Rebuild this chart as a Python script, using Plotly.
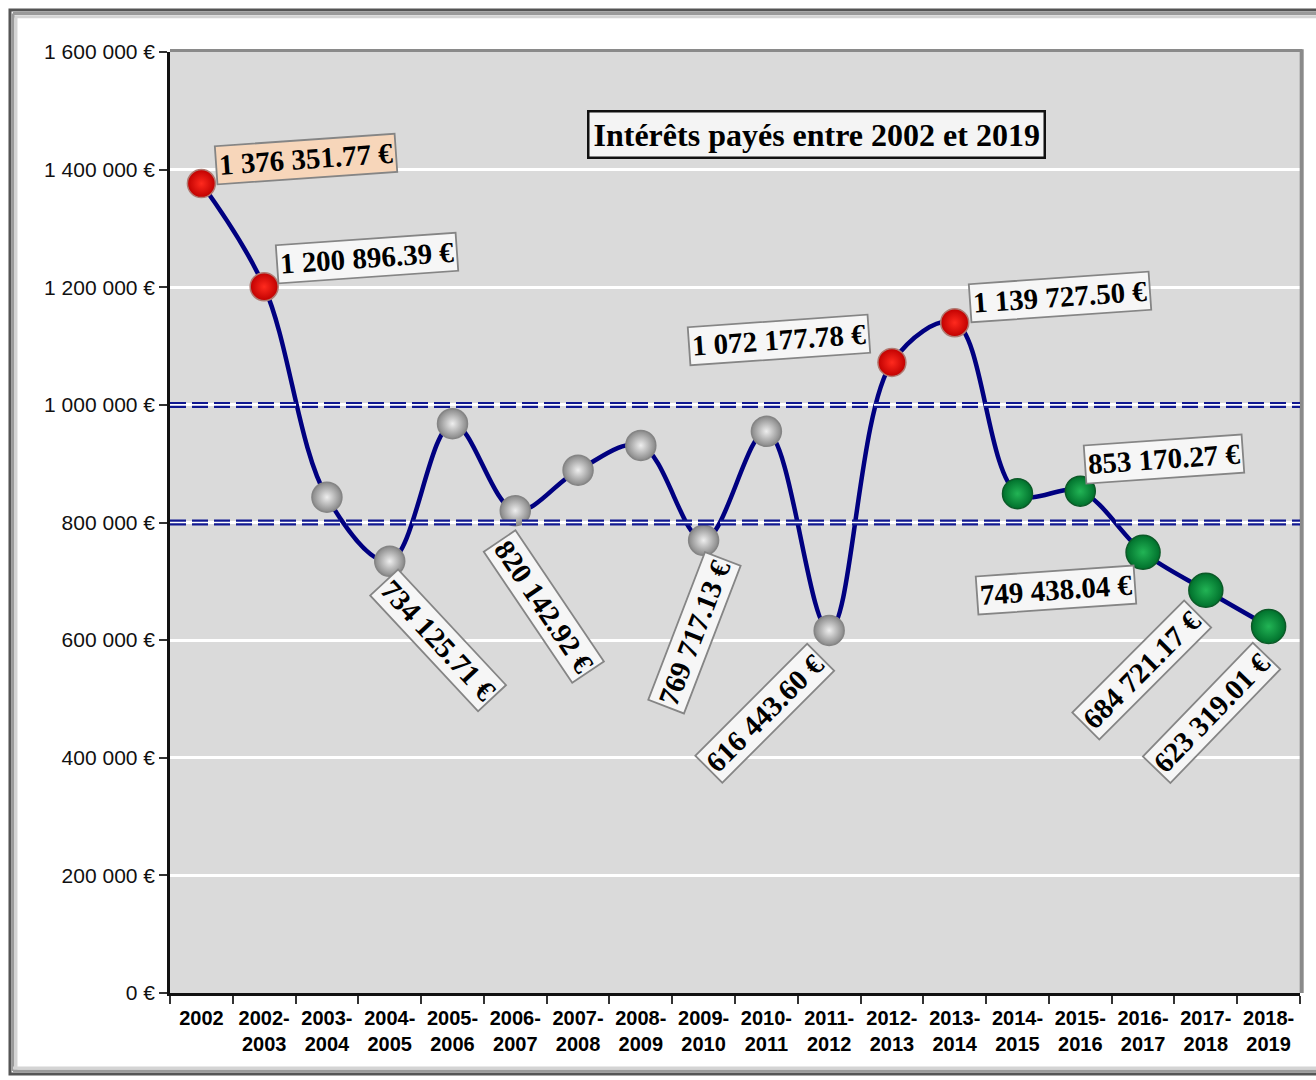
import plotly.graph_objects as go

# Interest paid per period (EUR)
periods = ["2002", "2002-2003", "2003-2004", "2004-2005", "2005-2006", "2006-2007",
           "2007-2008", "2008-2009", "2009-2010", "2010-2011", "2011-2012", "2012-2013",
           "2013-2014", "2014-2015", "2015-2016", "2016-2017", "2017-2018", "2018-2019"]
tick_labels = ["2002", "2002-<br>2003", "2003-<br>2004", "2004-<br>2005", "2005-<br>2006",
               "2006-<br>2007", "2007-<br>2008", "2008-<br>2009", "2009-<br>2010",
               "2010-<br>2011", "2011-<br>2012", "2012-<br>2013", "2013-<br>2014",
               "2014-<br>2015", "2015-<br>2016", "2016-<br>2017", "2017-<br>2018",
               "2018-<br>2019"]
interest = [1376351.77, 1200896.39, 843000, 734125.71, 968000, 820142.92,
            889000, 931000, 769717.13, 955000, 616443.60, 1072177.78,
            1139727.50, 849000, 853170.27, 749438.04, 684721.17, 623319.01]
y_ticks = [0, 200000, 400000, 600000, 800000, 1000000, 1200000, 1400000, 1600000]
reference_levels = [1000000, 800000]
title_text = "Intérêts payés entre 2002 et 2019"

# Marker colour bands
RED, GREY, GREEN = "red", "grey", "green"
band = [RED, RED] + [GREY] * 9 + [RED, RED] + [GREEN] * 5
band_edge = {RED: "#c00000", GREY: "#888888", GREEN: "#00702c"}
band_center = {RED: "#ff2a1e", GREY: "#eeeeee", GREEN: "#22b455"}
band_line = {RED: "#b07a72", GREY: "#858585", GREEN: "#0c5a28"}
marker_size = [28, 28] + [30] * 9 + [28, 28] + [30, 30, 34, 34, 34]


def euro(v, decimals=2):
    return f"{v:,.{decimals}f}".replace(",", " ") + " €"


fig = go.Figure()

fig.add_trace(go.Scatter(
    x=periods, y=interest, mode="lines",
    line=dict(color="#000080", width=4.5, shape="spline", smoothing=1.0),
    hoverinfo="skip", showlegend=False,
))

fig.add_trace(go.Scatter(
    x=periods, y=interest, mode="markers",
    marker=dict(
        size=marker_size,
        color=[band_edge[b] for b in band],
        gradient=dict(type="radial", color=[band_center[b] for b in band]),
        line=dict(color=[band_line[b] for b in band], width=1.5),
        opacity=1,
    ),
    showlegend=False,
))

# Value labels: (point index, x shift px, y shift px, text angle, background)
label_style = [
    (0, 105, 25, -4, "#f7d6ba"),
    (1, 103, 29, -4, "#f6f6f6"),
    (3, 48, -79, 47, "#f6f6f6"),
    (5, 29, -96, 56, "#f6f6f6"),
    (8, -9, -93, -69, "#f6f6f6"),
    (10, -64, -83, -45, "#f6f6f6"),
    (11, -113, 22, -4, "#f6f6f6"),
    (12, 105, 26, -4, "#f6f6f6"),
    (14, 84, 32, -4, "#f6f6f6"),
    (15, -87, -38, -4, "#f6f6f6"),
    (16, -64, -80, -45, "#f6f6f6"),
    (17, -57, -87, -46, "#f6f6f6"),
]

annotations = []
for idx, dx, dy, ang, bg in label_style:
    annotations.append(dict(
        x=idx, y=interest[idx], xref="x", yref="y",
        text=f"<b>{euro(interest[idx])}</b>", showarrow=False,
        xshift=dx, yshift=dy, textangle=ang,
        xanchor="center", yanchor="middle",
        font=dict(family="Liberation Serif, Times New Roman, serif", size=29, color="#000"),
        bgcolor=bg, bordercolor="#858585", borderwidth=1.8, borderpad=2,
    ))

# Chart title box
annotations.append(dict(
    x=0.5717, y=0.9118, xref="paper", yref="paper",
    text=f"<b>{title_text}</b>", showarrow=False,
    xanchor="center", yanchor="middle",
    font=dict(family="Liberation Serif, Times New Roman, serif", size=32, color="#000"),
    bgcolor="#f4f4f4", bordercolor="#111", borderwidth=2.5, borderpad=4,
))

shapes = []
# Outer frame with soft inner shadow
shapes += [
    dict(type="rect", xref="paper", yref="paper", x0=-0.1416, x1=1.03, y0=-0.0860, y1=1.0446,
         line=dict(color="#555", width=3), fillcolor="rgba(0,0,0,0)", layer="below"),
    dict(type="line", xref="paper", yref="paper", x0=-0.139, x1=1.03, y0=1.0410, y1=1.0410,
         line=dict(color="#9a9a9a", width=3), layer="below"),
    dict(type="line", xref="paper", yref="paper", x0=-0.139, x1=1.03, y0=1.0375, y1=1.0375,
         line=dict(color="#d4d4d4", width=3), layer="below"),
    dict(type="line", xref="paper", yref="paper", x0=-0.1390, x1=-0.1390, y0=-0.083, y1=1.041,
         line=dict(color="#9a9a9a", width=3), layer="below"),
    dict(type="line", xref="paper", yref="paper", x0=-0.1363, x1=-0.1363, y0=-0.083, y1=1.037,
         line=dict(color="#d4d4d4", width=3), layer="below"),
    dict(type="line", xref="paper", yref="paper", x0=-0.139, x1=1.03, y0=-0.0828, y1=-0.0828,
         line=dict(color="#9a9a9a", width=3), layer="below"),
    dict(type="line", xref="paper", yref="paper", x0=-0.139, x1=1.03, y0=-0.0796, y1=-0.0796,
         line=dict(color="#d4d4d4", width=3), layer="below"),
]
# Plot area border: grey top and right edges
shapes += [
    dict(type="line", xref="paper", yref="paper", x0=0, x1=1.002, y0=1.0015, y1=1.0015,
         line=dict(color="#8a8a8a", width=3)),
    dict(type="line", xref="paper", yref="paper", x0=1.0015, x1=1.0015, y0=0, y1=1.003,
         line=dict(color="#8a8a8a", width=4)),
]
# Reference levels: double dashed navy lines
for lvl in reference_levels:
    shapes.append(dict(type="line", xref="paper", yref="y", x0=0, x1=1, y0=lvl, y1=lvl,
                       line=dict(color="#101890", width=6, dash="16px,6px"), layer="above"))
    shapes.append(dict(type="line", xref="paper", yref="y", x0=0, x1=1, y0=lvl, y1=lvl,
                       line=dict(color="#ffffff", width=1.6, dash="16px,6px"), layer="above"))

fig.update_layout(
    width=1316, height=1080,
    margin=dict(l=170, r=16, t=52, b=87, autoexpand=False),
    paper_bgcolor="#ffffff",
    plot_bgcolor="#dadada",
    showlegend=False,
    annotations=annotations,
    shapes=shapes,
    xaxis=dict(
        type="category", categoryorder="array", categoryarray=periods,
        tickmode="array", tickvals=periods, ticktext=tick_labels,
        tickson="boundaries", ticks="outside", ticklen=8, tickwidth=1.5, tickcolor="#333",
        ticklabelstandoff=5,
        showline=True, linecolor="#111", linewidth=2.5,
        showgrid=False, zeroline=False,
        tickfont=dict(family="Liberation Sans, Arial, sans-serif", size=20, color="#000",
                      weight="bold"),
        range=[-0.5, len(periods) - 0.5],
    ),
    yaxis=dict(
        range=[0, 1600000], tickmode="array", tickvals=y_ticks,
        ticktext=[euro(v, 0) for v in y_ticks],
        ticks="outside", ticklen=8, tickwidth=1.5, tickcolor="#333",
        showline=True, linecolor="#111", linewidth=2.5,
        showgrid=True, gridcolor="#ffffff", gridwidth=3, zeroline=False,
        tickfont=dict(family="Liberation Sans, Arial, sans-serif", size=21, color="#111"),
    ),
)

fig.write_html("out.html")
